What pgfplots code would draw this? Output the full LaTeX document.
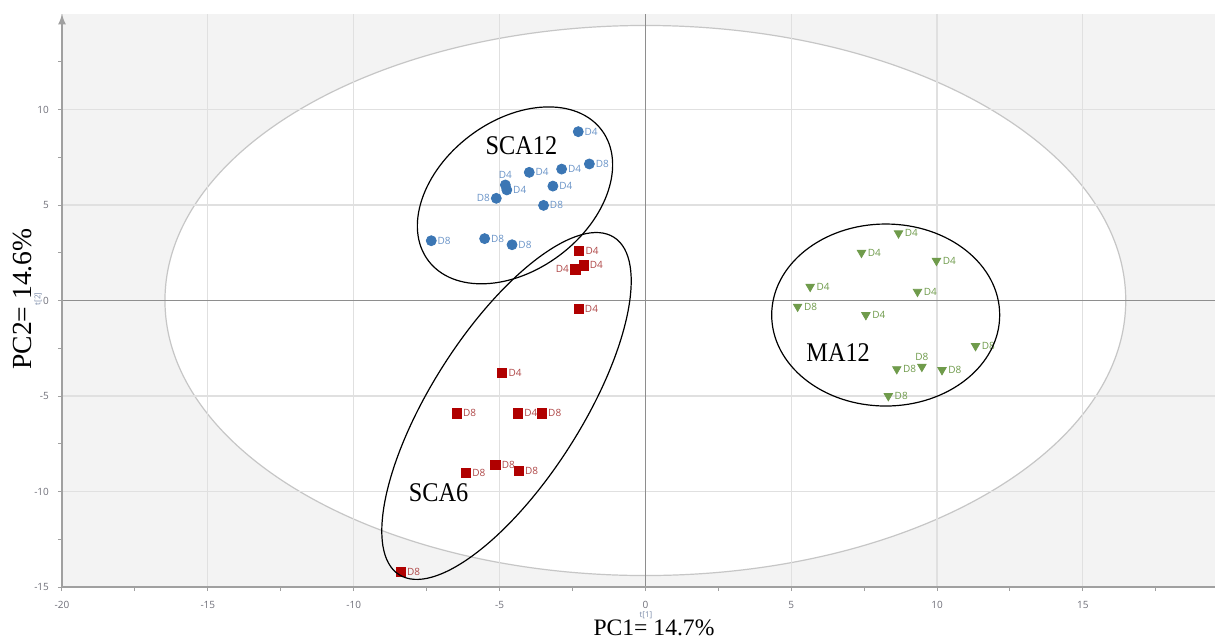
\documentclass[border=0pt]{standalone}
\usepackage{fontspec}
\setmainfont{Liberation Serif}
\newfontfamily\smallsans{Open Sans}
\usepackage{graphicx}
\usepackage{pgfplots}
\usepackage{pgfplotstable}
\pgfplotsset{compat=1.18}
\definecolor{bgc}{HTML}{F3F3F3}
\definecolor{gridc}{HTML}{E0E0E0}
\definecolor{axc}{HTML}{A0A0A0}
\definecolor{zeroc}{HTML}{8E8E8E}
\definecolor{ptblue}{HTML}{3B76B4}
\definecolor{labblue}{HTML}{6A94C8}
\definecolor{ptred}{HTML}{B00000}
\definecolor{labred}{HTML}{B04848}
\definecolor{ptgreen}{HTML}{6F9B4B}
\definecolor{labgreen}{HTML}{6F9B4B}
\definecolor{tickc}{HTML}{6E6E78}
\definecolor{tlab}{HTML}{7A8AA8}

% SCA12 (labels to the right)
\pgfplotstableread{
x y lab
-2.30 8.84 D4
-1.92 7.15 D8
-2.87 6.88 D4
-3.98 6.71 D4
-3.17 5.99 D4
-4.75 5.79 D4
-3.49 4.98 D8
-7.34 3.13 D8
-5.51 3.24 D8
-4.57 2.92 D8
}\sca
% SCA12 label above / label left
\pgfplotstableread{
x y lab
-4.80 6.05 D4
}\scaabove
\pgfplotstableread{
x y lab
-5.11 5.35 D8
}\scaleft

% SCA6
\pgfplotstableread{
x y lab
-2.27 2.61 D4
-2.12 1.84 D4
-2.29 -0.45 D4
-4.91 -3.81 D4
-6.47 -5.91 D8
-4.37 -5.91 D4
-3.55 -5.91 D8
-5.14 -8.61 D8
-6.15 -9.02 D8
-4.34 -8.91 D8
-8.39 -14.20 D8
}\scasix
\pgfplotstableread{
x y lab
-2.40 1.63 D4
}\scasixleft

% MA12
\pgfplotstableread{
x y lab
8.68 3.52 D4
7.41 2.50 D4
9.98 2.08 D4
5.65 0.72 D4
9.33 0.46 D4
5.22 -0.32 D8
7.56 -0.76 D4
11.32 -2.38 D8
8.62 -3.59 D8
10.17 -3.64 D8
8.33 -5.00 D8
}\ma
\pgfplotstableread{
x y lab
9.48 -3.47 D8
}\maabove

\pgfplotsset{
  ptlab/.style 2 args={
    nodes near coords,
    point meta=explicit symbolic,
    every node near coord/.append style={anchor=#2, inner sep=3pt,
      font=\smallsans\fontsize{5}{6}\selectfont, text=#1},
  },
  blue pts/.style={only marks, mark=*, mark size=2.5pt, color=ptblue},
  red pts/.style={only marks, mark=square*, mark size=2.3pt, color=ptred},
  green pts/.style={only marks, mark=triangle*, mark size=2.4pt, mark options={rotate=180}, color=ptgreen},
}

\begin{document}
\begin{tikzpicture}
\begin{axis}[
  at={(0,0)}, anchor=south west,
  scale only axis, width=576.5pt, height=286.5pt,
  xmin=-20, xmax=19.53, ymin=-15, ymax=15,
  set layers,
  axis x line=bottom, axis y line=left,
  x axis line style={-, draw=axc, line width=0.8pt},
  y axis line style={-latex, draw=axc, line width=0.8pt},
  xtick={-20,-15,...,15}, ytick={-15,-10,...,10},
  minor xtick={-17.5,-12.5,...,17.5},
  minor ytick={-12.5,-7.5,...,12.5},
  tick align=outside, major tick length=2pt, minor tick length=2pt,
  tick style={draw=axc, line width=0.5pt},
  grid=major, major grid style={draw=gridc, line width=0.6pt},
  ticklabel style={font=\smallsans\fontsize{5}{6}\selectfont, text=tickc},
  xticklabel style={yshift=-1.5pt},
  yticklabel style={xshift=-1pt},
  /pgf/number format/assume math mode=true,
  clip=false,
]
\pgfplotsextra{%
\begin{pgfonlayer}{axis background}
\fill[bgc] (axis cs:-20,-15) rectangle (axis cs:19.53,15);
\fill[white, draw=gray!45, line width=0.6pt] (axis cs:0,0) ellipse [x radius=16.47, y radius=14.4];
\end{pgfonlayer}
\begin{pgfonlayer}{axis grid}
\draw[zeroc, line width=0.7pt] (axis cs:0,-15) -- (axis cs:0,15);
\draw[zeroc, line width=0.7pt] (axis cs:-20,0) -- (axis cs:19.53,0);
\end{pgfonlayer}%
}

\addplot[blue pts, ptlab={labblue}{west}] table[x=x, y=y, meta=lab] {\sca};
\addplot[blue pts, ptlab={labblue}{south}] table[x=x, y=y, meta=lab] {\scaabove};
\addplot[blue pts, ptlab={labblue}{east}] table[x=x, y=y, meta=lab] {\scaleft};
\addplot[red pts, ptlab={labred}{west}] table[x=x, y=y, meta=lab] {\scasix};
\addplot[red pts, ptlab={labred}{east}] table[x=x, y=y, meta=lab] {\scasixleft};
\addplot[green pts, ptlab={labgreen}{west}] table[x=x, y=y, meta=lab] {\ma};
\addplot[green pts, ptlab={labgreen}{south}] table[x=x, y=y, meta=lab] {\maabove};

\coordinate (c12) at (axis cs:-4.47,5.50);
\coordinate (c6) at (axis cs:-4.76,-5.52);
\coordinate (cma) at (axis cs:8.24,-0.76);

\node[font=\fontsize{13.5}{14}\selectfont] at (axis cs:-4.25,8.09) {\scalebox{0.9}[1]{SCA12}};
\node[font=\fontsize{13.5}{14}\selectfont] at (axis cs:-7.09,-10.08) {\scalebox{0.9}[1]{SCA6}};
\node[font=\fontsize{13.5}{14}\selectfont] at (axis cs:6.61,-2.70) {\scalebox{0.9}[1]{MA12}};
\end{axis}

\draw[black, line width=0.6pt, rotate around={37:(c12)}] (c12) ellipse [x radius=54.25pt, y radius=37.35pt];
\draw[black, line width=0.6pt, rotate around={57.5:(c6)}] (c6) ellipse [x radius=100pt, y radius=37.5pt];
\draw[black, line width=0.6pt] (cma) ellipse [x radius=57pt, y radius=45.5pt];

\node[font=\smallsans\fontsize{4}{5}\selectfont, text=tlab, inner sep=0pt] at (292pt,-14pt) {t[1]};
\node[font=\smallsans\fontsize{4}{5}\selectfont, text=tlab, rotate=90, inner sep=0pt] at (-12pt,144pt) {t[2]};
\node[font=\fontsize{11.8}{12}\selectfont, inner sep=0pt] at (296pt,-20.6pt) {PC1= 14.7\%};
\node[font=\fontsize{13.8}{14}\selectfont, rotate=90, inner sep=0pt] at (-19.75pt,144pt) {PC2= 14.6\%};
\pgfresetboundingbox
\useasboundingbox (-31pt,-26pt) rectangle (577.5pt,293.5pt);
\end{tikzpicture}
\end{document}
